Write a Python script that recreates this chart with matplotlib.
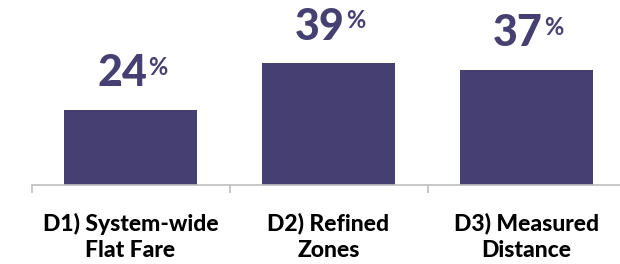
import matplotlib
matplotlib.use("Agg")
import matplotlib.pyplot as plt

categories = ["D1) System-wide\nFlat Fare", "D2) Refined\nZones", "D3) Measured\nDistance"]
values = [24, 39, 37]

BAR = "#463F72"
plt.rcParams["font.family"] = ["Lato", "DejaVu Sans"]

fig = plt.figure(figsize=(6.2, 2.64), dpi=100)
ax = fig.add_axes([31.5 / 620, 79 / 264, 594 / 620, 185 / 264])
x = range(len(values))
ax.bar(x, values, width=0.67, color=BAR)
ax.set_xlim(-0.5, 2.5)
ax.set_ylim(0, 59.3)

for s in ["top", "right", "left"]:
    ax.spines[s].set_visible(False)
ax.spines["bottom"].set_color("#BFBFBF")
ax.spines["bottom"].set_linewidth(1.2)
ax.set_yticks([])
ax.set_xticks([-0.5, 0.5, 1.5, 2.5])
ax.set_xticklabels([])
ax.tick_params(axis="x", length=6, color="#BFBFBF", width=1.2, direction="out")

for i, v in enumerate(values):
    t = ax.annotate(str(v), xy=(i, v), xytext=(-6, 12), textcoords="offset points",
                    ha="center", va="bottom", fontsize=31, fontweight="black", color=BAR)
    ax.annotate("%", xy=(1, 1), xycoords=t, xytext=(0.5, -2), textcoords="offset points",
                ha="left", va="top", fontsize=17, fontweight="bold", color=BAR)
    ax.annotate(categories[i], xy=(i, 0), xytext=(0, -20), textcoords="offset points",
                ha="center", va="top", fontsize=16.5, fontweight="black", color="black",
                linespacing=1.3)

plt.savefig("out.png", dpi=100)
